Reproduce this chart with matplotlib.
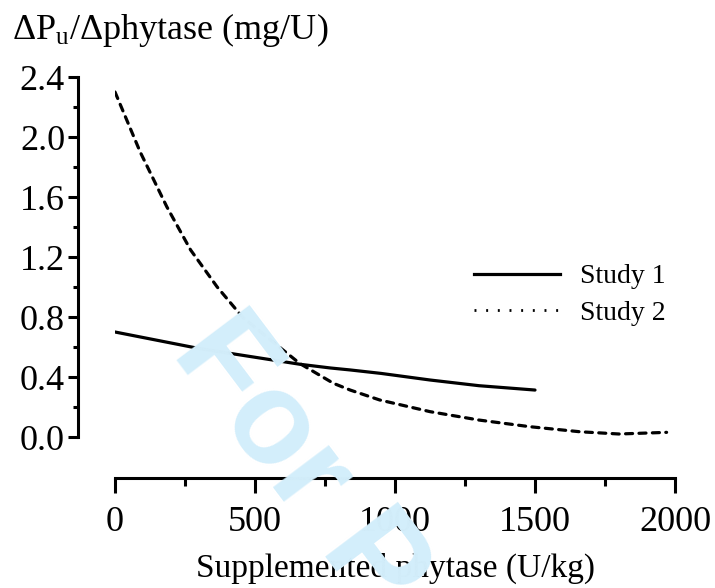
import matplotlib
matplotlib.use('Agg')
import matplotlib.pyplot as plt
from matplotlib.lines import Line2D

plt.rcParams['font.family'] = ['Liberation Serif', 'DejaVu Serif']
plt.rcParams['mathtext.fontset'] = 'custom'
plt.rcParams['mathtext.rm'] = 'Liberation Serif'
plt.rcParams['mathtext.it'] = 'Liberation Serif:italic'

# Data
study1_x = [0, 300, 660, 770, 840, 950, 1125, 1300, 1500]
study1_y = [0.70, 0.59, 0.485, 0.46, 0.447, 0.424, 0.38, 0.342, 0.313]

study2_x = [0, 90, 185, 270, 365, 455, 540, 660, 780, 840, 945, 1125, 1300, 1480, 1660, 1800, 1970]
study2_y = [2.30, 1.90, 1.535, 1.247, 1.0, 0.80, 0.67, 0.49, 0.358, 0.313, 0.247, 0.169, 0.113, 0.069, 0.035, 0.02, 0.031]

fig = plt.figure(figsize=(7.15, 5.88), dpi=100)
ax = fig.add_axes([115 / 715, 1 - 437 / 588, 560 / 715, 360 / 588])

# watermark
fig.text(171 / 715, 1 - 352 / 588, 'For Peer Review', color='#d3eefb',
         fontsize=94, fontweight='bold', family='Liberation Sans',
         rotation=-53, rotation_mode='anchor', ha='left', va='baseline',
         zorder=0)
ax.patch.set_alpha(0)

ax.plot(study1_x, study1_y, color='black', lw=2.3, solid_capstyle='round')
ax.plot(study2_x, study2_y, color='black', lw=2.3, dashes=(2.2, 2.0),
        dash_capstyle='round')

ax.set_xlim(0, 2000)
ax.set_ylim(0, 2.4)
ax.set_xticks([0, 500, 1000, 1500, 2000])
ax.set_xticks([250, 750, 1250, 1750], minor=True)
ax.set_yticks([0, 0.4, 0.8, 1.2, 1.6, 2.0, 2.4])
ax.set_yticks([0.2, 0.6, 1.0, 1.4, 1.8, 2.2], minor=True)
ax.set_yticklabels(['0.0', '0.4', '0.8', '1.2', '1.6', '2.0', '2.4'])

for s in ['top', 'right']:
    ax.spines[s].set_visible(False)
ax.spines['left'].set_position(('outward', 27))
ax.spines['bottom'].set_position(('outward', 29.5))
ax.spines['left'].set_linewidth(2.2)
ax.spines['bottom'].set_linewidth(2.2)

ax.tick_params(axis='y', which='major', length=7, width=2.2, labelsize=26, pad=2)
ax.tick_params(axis='y', which='minor', length=3.6, width=2.2)
ax.tick_params(axis='x', which='major', length=11, width=2.2, labelsize=26, pad=9)
ax.tick_params(axis='x', which='minor', length=6, width=2.2)

ax.set_xlabel('Supplemented phytase (U/kg)', fontsize=24, labelpad=10)
fig.text(12 / 715, 1 - 30 / 588, 'ΔP$_{\\mathrm{u}}$/Δphytase (mg/U)',
         fontsize=26, ha='left', va='center')

handles = [Line2D([], [], color='black', lw=2.3),
           Line2D([], [], color='black', lw=2.0, dashes=(0.7, 3.5))]
ax.legend(handles, ['Study 1', 'Study 2'], loc='upper left',
          bbox_to_anchor=(0.597, 0.55), frameon=False, fontsize=20,
          handlelength=3.1, handletextpad=0.7, labelspacing=0.4)

fig.savefig('out.png', dpi=100)
